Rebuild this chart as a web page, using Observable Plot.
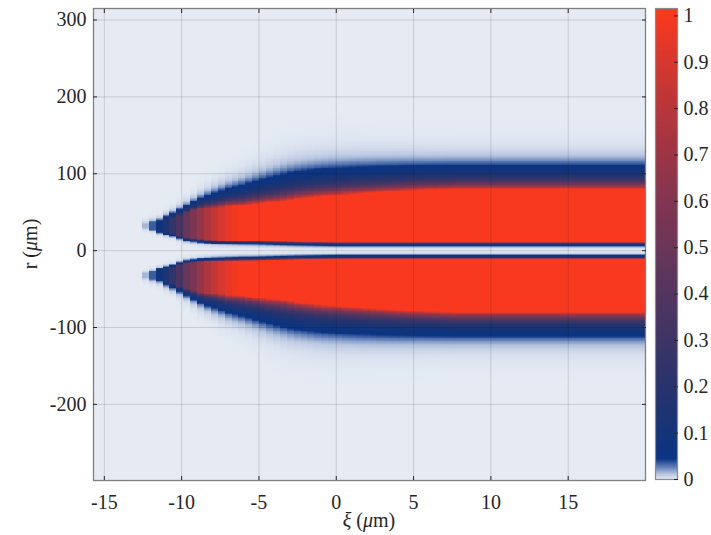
<!DOCTYPE html>
<html>
<head>
<meta charset="utf-8">
<script src="https://cdn.jsdelivr.net/npm/d3@7"></script>
<script src="https://cdn.jsdelivr.net/npm/@observablehq/plot@0.6"></script>
<style>
  html, body { margin: 0; padding: 0; background: #ffffff; }
  #wrap { position: relative; width: 711px; height: 535px; overflow: hidden; background: #fff; }
  #main { position: absolute; left: 0; top: 0; width: 650px; }
  #cbar { position: absolute; left: 650px; top: 0; width: 61px; }
  svg text { font-family: "Liberation Serif", "DejaVu Serif", serif !important; }
</style>
</head>
<body>
<div id="wrap"><div id="main"></div><div id="cbar"></div></div>
<script>
// ---------- data ----------
// axis extents (μm)
const xiDomain = [-15.7, 20];
const rDomain = [-299, 315];
const xTicks = [-15, -10, -5, 0, 5, 10, 15];
const yTicks = [-200, -100, 0, 100, 200, 300];
const cbTicks = [0, 0.1, 0.2, 0.3, 0.4, 0.5, 0.6, 0.7, 0.8, 0.9, 1];
const cbMax = 1.016;

// the field is drawn on 80 ξ-columns (symmetric in r)
const nCols = 80;
const rStep = 1;
// peak value of each column
const colPeak = [
  0,0,0,0,0,0,0,0.015,0.035,0.08,
  0.15,0.25,0.36,0.47,0.57,0.67,0.76,0.84,0.9,0.95,
  0.98,1,1,1,1,1,1,1,1,1,
  1,1,1,1,1,1,1,1,1,1,
  1,1,1,1,1,1,1,1,1,1,
  1,1,1,1,1,1,1,1,1,1,
  1,1,1,1,1,1,1,1,1,1,
  1,1,1,1,1,1,1,1,1,1
];
// outer radius of the plateau (μm)
const colROut = [
  0,0,0,0,0,0,0,35,37,37.8,
  40.9,43.2,46.5,49.7,52.5,54.5,55.5,55.7,56.8,58,
  58.2,58.5,59.5,60.5,61.5,62.5,63,64.1,65.5,67,
  68,69,70,70.7,71.3,71.8,72.6,73.3,74,74.6,
  75.2,75.8,76.3,76.8,77.3,77.8,78.2,78.6,79,79.1,
  79.5,79.6,80,80,80,80,80,80,80,80,
  80,80,80,80,80,80,80,80,80,80,
  80,80,80,80,80,80,80,80,80,80
];
// outer fall-off length (μm)
const colDecay = [
  0,0,0,0,0,0,0,2.5,2.5,2.5,
  2.8,3,3.3,3.7,4.3,5,5.7,6.5,7,7.5,
  8,8.5,9,9.5,10,10.5,11,11.3,11.5,11.5,
  11.5,11.5,11.5,11.5,11.5,11.5,11.4,11.3,11.2,11.1,
  11,10.9,10.8,10.7,10.6,10.5,10.4,10.3,10.2,10.2,
  10.1,10.1,10,10,10,10,10,10,10,10,
  10,10,10,10,10,10,10,10,10,10,
  10,10,10,10,10,10,10,10,10,10
];
// inner radius of the plateau (μm)
const colRIn = [
  0,0,0,0,0,0,0,29,27,24.5,
  23.1,21.9,19,16.4,15.6,14.7,14.1,13.7,13.5,13.3,
  13.2,13,12.9,12.8,12.6,12.4,12.2,12,11.8,11.6,
  11.5,11.4,11.3,11.2,11.1,11,11,11,11,11,
  11,11,11,11,11,11,11,11,11,11,
  11,11,11,11,11,11,11,11,11,11,
  11,11,11,11,11,11,11,11,11,11,
  11,11,11,11,11,11,11,11,11,11
];
const innerDecay = 1.5;

// colormap
const cStops  = [0, 0.012, 0.025, 0.045, 0.1, 0.2, 0.3, 0.4, 0.5, 0.6, 0.7, 0.8, 0.9, 1];
const cColors = ["#e5eaf3", "#b7c5df", "#6a86bb", "#0b3483", "#143478", "#28336d", "#3d3466",
                 "#53355f", "#6a3658", "#823550", "#9c3546", "#b8363b", "#d6372e", "#f8391f"];

// ---------- build the grid ----------
const colW = (xiDomain[1] - xiDomain[0]) / nCols;
const nRows = Math.round((rDomain[1] - rDomain[0]) / rStep);
const grid = [];
for (let k = 0; k < nCols; k++) {
  const xc = xiDomain[0] + (k + 0.5) * colW;
  const A = colPeak[k], ro = colROut[k], L = colDecay[k], ri = colRIn[k];
  for (let j = 0; j < nRows; j++) {
    const r = rDomain[1] - (j + 0.5) * rStep;
    let v = 0;
    if (A > 0) {
      const d = Math.abs(r);
      let f = 1;
      if (d > ro) f = Math.exp(-(d - ro) / L);
      else if (d < ri) f = Math.exp(-(ri - d) / innerDecay);
      v = A * f;
    }
    grid.push({x: xc, y: r, v});
  }
}

const colorScale = {type: "linear", domain: cStops, range: cColors, interpolate: "rgb", clamp: true};
const fmt = d => String(d);
const font = "'Liberation Serif', 'DejaVu Serif', serif";

const main = Plot.plot({
  width: 650, height: 535,
  marginTop: 8, marginRight: 5, marginBottom: 55, marginLeft: 93,
  x: {domain: xiDomain, label: null},
  y: {domain: rDomain, label: null},
  color: colorScale,
  style: {fontFamily: font, fontSize: "20px", color: "#262626", background: "#ffffff"},
  marks: [
    Plot.raster(grid, {x: "x", y: "y", fill: "v", width: nCols, height: nRows, imageRendering: "pixelated"}),
    Plot.gridX(xTicks, {stroke: "#000", strokeOpacity: 0.13}),
    Plot.gridY(yTicks, {stroke: "#000", strokeOpacity: 0.13}),
    Plot.frame({stroke: "#7f7f7f", strokeWidth: 1.3}),
    Plot.axisX(xTicks, {anchor: "bottom", tickSize: -4, tickPadding: 18.5, tickFormat: fmt, label: null, fontSize: 20}),
    Plot.axisX(xTicks, {anchor: "top", tickSize: -4, tickFormat: () => "", label: null}),
    Plot.axisY(yTicks, {anchor: "left", tickSize: -4, tickPadding: 11, tickFormat: fmt, label: null, fontSize: 20}),
    Plot.axisY(yTicks, {anchor: "right", tickSize: -4, tickFormat: () => "", label: null})
  ]
});
document.getElementById("main").appendChild(main);

// axis titles with italic Greek
const svg = d3.select(main);
const xt = svg.append("text").attr("x", 369).attr("y", 527).attr("text-anchor", "middle")
  .style("font-family", font).style("font-size", "20px").attr("fill", "#262626");
xt.append("tspan").attr("font-style", "italic").text("ξ");
xt.append("tspan").text(" (");
xt.append("tspan").attr("font-style", "italic").text("μ");
xt.append("tspan").text("m)");
const yt = svg.append("text").attr("transform", "translate(37,244) rotate(-90)").attr("text-anchor", "middle")
  .style("font-family", font).style("font-size", "20px").attr("fill", "#262626");
yt.append("tspan").text("r (");
yt.append("tspan").attr("font-style", "italic").text("μ");
yt.append("tspan").text("m)");

// colour bar
const cb = Plot.plot({
  width: 61, height: 535,
  marginTop: 8, marginBottom: 56, marginLeft: 5, marginRight: 34,
  x: {domain: [0, 1], axis: null},
  y: {domain: [0, cbMax], label: null},
  color: colorScale,
  style: {fontFamily: font, fontSize: "20px", color: "#262626", background: "#ffffff"},
  marks: [
    Plot.raster({fill: (x, y) => y, x1: 0, x2: 1, y1: 0, y2: cbMax, pixelSize: 1}),
    Plot.frame({stroke: "#8a8a8a", strokeWidth: 1.2}),
    Plot.axisY(cbTicks, {anchor: "right", tickSize: -4, tickPadding: 10, tickFormat: fmt, label: null, fontSize: 20})
  ]
});
document.getElementById("cbar").appendChild(cb);
</script>
</body>
</html>
